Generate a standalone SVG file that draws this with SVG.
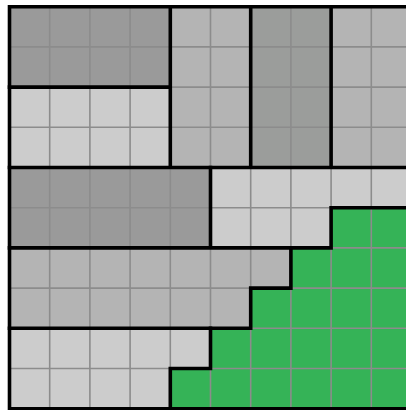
<svg xmlns="http://www.w3.org/2000/svg" width="406" height="410" viewBox="0 0 406 410">
<style>
.dark{fill:#9a9a9a}
.med{fill:#b4b4b4}
.light{fill:#cccccc}
.green{fill:#35b357}
.grid{stroke:#8c8c8c;stroke-width:1.6;fill:none}
.bold{stroke:#000;stroke-width:3.6;fill:none;stroke-linecap:square;stroke-linejoin:miter}
</style>
<rect width="406" height="410" fill="#ffffff"/>
<g id="regionA"><rect class="dark" x="9.5" y="6.7" width="160.8" height="80.4"/></g>
<g id="regionB"><rect class="light" x="9.5" y="87.1" width="160.8" height="80.4"/></g>
<g id="regionC"><rect class="med" x="170.3" y="6.7" width="80.4" height="160.8"/></g>
<g id="regionD"><rect class="dark" x="250.7" y="6.7" width="80.4" height="160.8" style="fill:#9b9d9b"/></g>
<g id="regionE"><rect class="med" x="331.1" y="6.7" width="80.4" height="160.8"/></g>
<g id="regionF"><rect class="dark" x="9.5" y="167.5" width="201" height="80.4"/></g>
<g id="regionG"><polygon class="light" points="210.5,167.5 411.5,167.5 411.5,207.7 331.1,207.7 331.1,247.9 210.5,247.9"/></g>
<g id="regionH"><polygon class="med" points="9.5,247.9 290.9,247.9 290.9,288.1 250.7,288.1 250.7,328.3 9.5,328.3"/></g>
<g id="regionI"><polygon class="light" points="9.5,328.3 210.5,328.3 210.5,368.5 170.3,368.5 170.3,408.7 9.5,408.7"/></g>
<g id="regionGreen"><polygon class="green" points="331.1,207.7 411.5,207.7 411.5,408.7 170.3,408.7 170.3,368.5 210.5,368.5 210.5,328.3 250.7,328.3 250.7,288.1 290.9,288.1 290.9,247.9 331.1,247.9"/></g>
<g id="gridlines">
<path class="grid" d="M49.7 6.7V408.7M89.9 6.7V408.7M130.1 6.7V408.7M170.3 6.7V408.7M210.5 6.7V408.7M250.7 6.7V408.7M290.9 6.7V408.7M331.1 6.7V408.7M371.3 6.7V408.7
M9.5 46.9H411.5M9.5 87.1H411.5M9.5 127.3H411.5M9.5 167.5H411.5M9.5 207.7H411.5M9.5 247.9H411.5M9.5 288.1H411.5M9.5 328.3H411.5M9.5 368.5H411.5"/>
</g>
<g id="boundaries">
<path class="bold" d="M9.5 6.7H411.5V408.7H9.5Z"/>
<path class="bold" d="M9.5 87.1H170.3M170.3 6.7V167.5M250.7 6.7V167.5M331.1 6.7V167.5M9.5 167.5H411.5"/>
<path class="bold" d="M210.5 167.5V247.9M9.5 247.9H331.1V207.7H411.5"/>
<path class="bold" d="M290.9 247.9V288.1H250.7V328.3M9.5 328.3H250.7"/>
<path class="bold" d="M210.5 328.3V368.5H170.3V408.7"/>
</g>
</svg>
